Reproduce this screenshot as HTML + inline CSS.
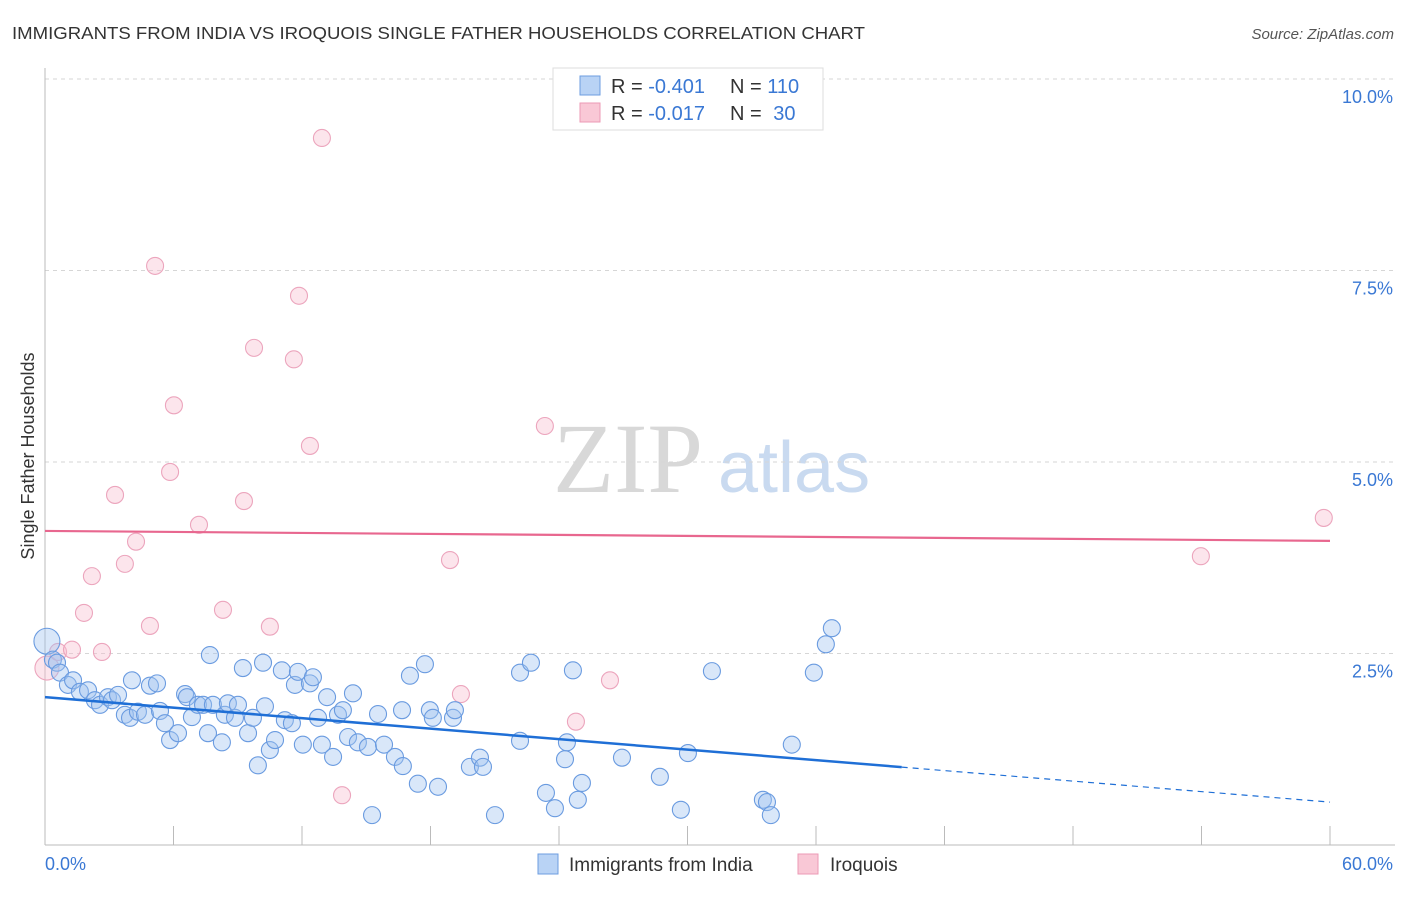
<!DOCTYPE html>
<html><head><meta charset="utf-8">
<style>
body{margin:0;background:#fff;font-family:"Liberation Sans",sans-serif;}
svg text{font-family:"Liberation Sans",sans-serif;}
</style></head>
<body>
<svg id="chart" width="1406" height="892" viewBox="0 0 1406 892" xmlns="http://www.w3.org/2000/svg">
<text x="12" y="39" font-size="17.5" fill="#333" textLength="853" lengthAdjust="spacingAndGlyphs">IMMIGRANTS FROM INDIA VS IROQUOIS SINGLE FATHER HOUSEHOLDS CORRELATION CHART</text>
<text x="1394" y="39" font-size="15" fill="#555" font-style="italic" text-anchor="end">Source: ZipAtlas.com</text>
<g>
<text x="553" y="492" font-size="100" style="font-family:'Liberation Serif',serif" fill="#d8d8d8">ZIP</text>
<text x="718" y="492" font-size="72" fill="#c9daf0">atlas</text>
</g>
<g id="grid"></g>
<g id="axes"></g>
<g id="marks"></g>
<text transform="translate(34,456) rotate(-90)" font-size="18" fill="#333" text-anchor="middle">Single Father Households</text>
<g>
<rect x="553" y="68" width="270" height="62" fill="#fff" stroke="#ddd"/>
<rect x="580" y="76" width="20" height="19" fill="#b9d3f5" stroke="#6d9ee0"/>
<rect x="580" y="103" width="20" height="19" fill="#f9c8d6" stroke="#ec9ab5"/>
<text x="611" y="93" font-size="20" fill="#333">R = <tspan fill="#3a78d4">-0.401</tspan></text>
<text x="730" y="93" font-size="20" fill="#333">N = <tspan fill="#3a78d4">110</tspan></text>
<text x="611" y="120" font-size="20" fill="#333">R = <tspan fill="#3a78d4">-0.017</tspan></text>
<text x="730" y="120" font-size="20" fill="#333">N = <tspan fill="#3a78d4" dx="6">30</tspan></text>
</g>
<g>
<rect x="538" y="854" width="20" height="20" fill="#b9d3f5" stroke="#6d9ee0"/>
<text x="569" y="871" font-size="19" fill="#333">Immigrants from India</text>
<rect x="798" y="854" width="20" height="20" fill="#f9c8d6" stroke="#ec9ab5"/>
<text x="830" y="871" font-size="19" fill="#333">Iroquois</text>
</g>
</svg>
<script>
const indiaX=[0.09,0.37,0.56,0.70,1.07,1.31,1.63,2.01,2.33,2.57,2.94,3.13,3.41,3.73,3.97,4.06,4.34,4.67,4.90,5.23,5.37,5.60,5.84,6.21,6.54,6.63,6.86,7.14,7.38,7.61,7.70,7.84,8.26,8.40,8.54,8.87,9.01,9.24,9.48,9.71,9.94,10.27,10.18,10.50,10.74,11.06,11.20,11.53,11.67,11.81,12.04,12.37,12.51,12.75,12.93,13.17,13.45,13.68,13.91,14.15,14.38,14.61,15.08,15.27,15.55,15.83,16.34,16.71,16.67,17.04,17.41,17.74,17.97,18.11,18.35,19.05,19.14,19.84,20.31,20.45,21.01,22.18,22.18,22.69,23.39,23.81,24.28,24.37,24.65,24.88,25.07,26.94,28.71,29.69,30.02,31.14,33.52,33.71,33.89,34.87,35.90,36.46,36.74];
const indiaY=[2.66,2.42,2.38,2.25,2.09,2.15,2.00,2.02,1.89,1.83,1.93,1.89,1.96,1.70,1.66,2.15,1.74,1.70,2.08,2.11,1.75,1.59,1.37,1.46,1.97,1.93,1.67,1.83,1.83,1.46,2.48,1.83,1.34,1.70,1.85,1.66,1.83,2.31,1.46,1.66,1.04,1.81,2.38,1.24,1.37,2.28,1.63,1.59,2.09,2.26,1.31,2.11,2.19,1.66,1.31,1.93,1.15,1.70,1.76,1.41,1.98,1.34,1.28,0.39,1.71,1.31,1.15,1.03,1.76,2.21,0.80,2.36,1.76,1.66,0.76,1.66,1.76,1.02,1.14,1.02,0.39,1.36,2.25,2.38,0.68,0.48,1.12,1.34,2.28,0.59,0.81,1.14,0.89,0.46,1.20,2.27,0.59,0.56,0.39,1.31,2.25,2.62,2.83];
const iroqX=[0.09,0.61,1.26,2.66,1.82,2.19,3.27,3.73,4.25,4.90,5.14,5.84,6.02,7.19,8.31,9.29,9.76,10.50,11.62,11.86,12.37,12.93,13.87,18.91,19.42,23.34,24.79,26.38,53.97,59.71];
const iroqY=[2.31,2.52,2.55,2.52,3.03,3.51,4.57,3.67,3.96,2.86,7.56,4.87,5.74,4.18,3.07,4.49,6.49,2.85,6.34,7.17,5.21,9.23,0.65,3.72,1.97,5.47,1.61,2.15,3.77,4.27];
const yTicks=[2.5,5.0,7.5,10.0];
const yTickLabels=["2.5%","5.0%","7.5%","10.0%"];
const xTicks=[0,6,12,18,24,30,36,42,48,54,60];
const indiaTrend=[1.93,0.56];
const iroqTrend=[4.10,3.97];

const NS="http://www.w3.org/2000/svg";
const X0=45,X1=1330,Y0=845,Ytop=79;
function sx(v){return X0+(v/60)*(X1-X0);}
function sy(v){return Y0-(v/10)*(Y0-Ytop);}
function mk(tag,attrs,parent){const e=document.createElementNS(NS,tag);for(const k in attrs)e.setAttribute(k,attrs[k]);parent.appendChild(e);return e;}
const grid=document.getElementById('grid'),axes=document.getElementById('axes'),marks=document.getElementById('marks');
yTicks.forEach((t,i)=>{
 const l=mk('line',{x1:X0,x2:1395,y1:sy(t),y2:sy(t),stroke:'#d6d6d6','stroke-dasharray':'4,4'},grid);
 
 
 const tx=mk('text',{x:1393,y:sy(t)+24,'font-size':18,fill:'#3a78d4','text-anchor':'end'},axes);
 tx.textContent=yTickLabels[i];
 
 
});
const ax=mk('line',{x1:X0,x2:1395,y1:Y0,y2:Y0,stroke:'#bbb'},axes);


const ay=mk('line',{x1:X0,x2:X0,y1:68,y2:Y0,stroke:'#bbb'},axes);


xTicks.forEach(t=>{
 const l=mk('line',{x1:sx(t),x2:sx(t),y1:826,y2:Y0,stroke:'#bbb'},axes);
 
 
});
const xl0=mk('text',{x:45,y:870,'font-size':18,fill:'#3a78d4'},axes);xl0.textContent='0.0%';


const xl1=mk('text',{x:1393,y:870,'font-size':18,fill:'#3a78d4','text-anchor':'end'},axes);xl1.textContent='60.0%';



iroqX.forEach((x,i)=>{
 const c=mk('circle',{cx:sx(x),cy:sy(iroqY[i]),r:i===0?12:8.5,fill:'rgba(248,190,208,0.4)',stroke:'#eca5bd','stroke-width':1.1},marks);
 
 
});
indiaX.forEach((x,i)=>{
 const c=mk('circle',{cx:sx(x),cy:sy(indiaY[i]),r:i===0?13:8.5,fill:'rgba(160,196,240,0.4)',stroke:'#6a9be0','stroke-width':1.1},marks);
 
 
});
function ty(tr,x){return tr[0]+(tr[1]-tr[0])*x/60;}
const bl=mk('line',{x1:sx(0),y1:sy(ty(indiaTrend,0)),x2:sx(40),y2:sy(ty(indiaTrend,40)),stroke:'#1f6fd6','stroke-width':2.5},marks);


const bd=mk('line',{x1:sx(40),y1:sy(ty(indiaTrend,40)),x2:sx(60),y2:sy(ty(indiaTrend,60)),stroke:'#1f6fd6','stroke-width':1.2,'stroke-dasharray':'6,5'},marks);


const pl=mk('line',{x1:sx(0),y1:sy(ty(iroqTrend,0)),x2:sx(60),y2:sy(ty(iroqTrend,60)),stroke:'#e8678f','stroke-width':2.2},marks);


</script>
</body></html>
